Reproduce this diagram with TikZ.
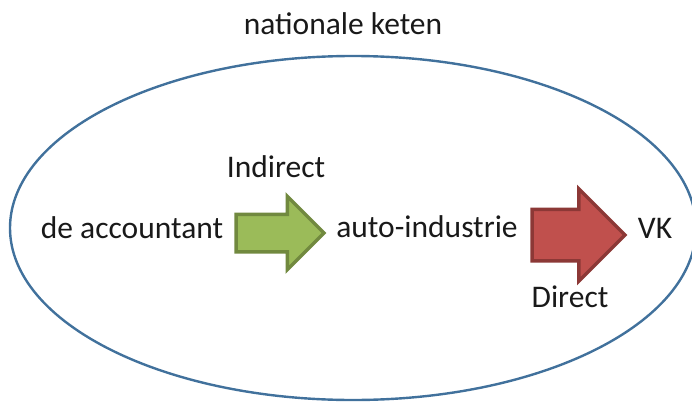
\documentclass[tikz,border=0pt]{standalone}
\usepackage{fontspec}
\setmainfont{Carlito}
\usepackage{tikz}
\usetikzlibrary{positioning,shapes.arrows}
\definecolor{ringblue}{HTML}{41719C}
\definecolor{indgreen}{HTML}{9BBB59}
\definecolor{indgreenline}{HTML}{71893F}
\definecolor{dirred}{HTML}{C0504D}
\definecolor{dirredline}{HTML}{8C3836}

\begin{document}
\begin{tikzpicture}[
    x=1pt, y=-1pt,
    lbl/.style={font=\fontsize{31.5}{36}\selectfont, text=black!90, inner sep=0pt, anchor=base},
    flow/.style={single arrow, draw=#1line, fill=#1, line width=3.5pt,
                 single arrow tip angle=90, inner xsep=0pt, outer sep=0pt,
                 anchor=tail}
  ]
    \useasboundingbox (0,0) rectangle (692,401);

    % Chain boundary
    \draw[ringblue, line width=2.4pt] (353,228) ellipse [x radius=343, y radius=172];
    \node[lbl] (chain) at (343,35) {nationale keten};

    % Actors
    \node[lbl] (acc) at (132,238) {de accountant};
    \node[lbl] (auto) at (427,237) {auto-industrie};
    \node[lbl] (vk) at (655,238) {VK};

    % Flows
    \node[flow=indgreen, minimum height=88pt, inner ysep=17pt,
          single arrow head extend=18pt] (ind) at (236,233) {};
    \node[flow=dirred, minimum height=93pt, inner ysep=24pt,
          single arrow head extend=20.5pt] (dir) at (532,235) {};

    % Flow labels
    \node[lbl] (indlbl) at (276,177) {Indirect};
    \node[lbl] (dirlbl) at (570,307) {Direct};
\end{tikzpicture}
\end{document}
